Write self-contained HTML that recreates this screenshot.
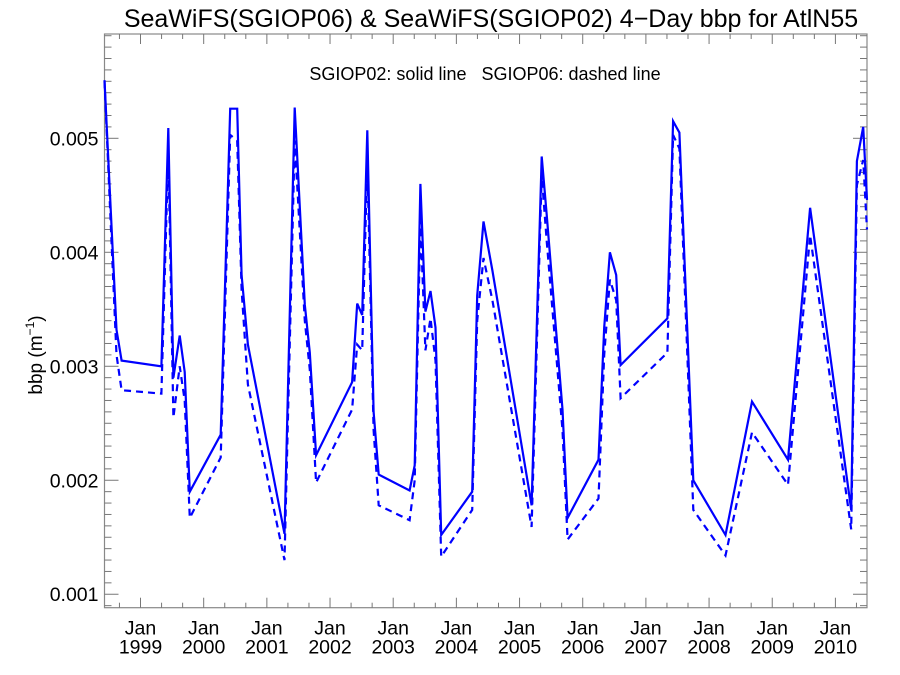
<!DOCTYPE html>
<html><head><meta charset="utf-8"><style>
html,body{margin:0;padding:0;background:#fff;}
svg{display:block;font-family:"Liberation Sans",sans-serif;}
</style></head><body>
<svg id="chart" width="900" height="675">
<text x="491" y="27" font-size="25" text-anchor="middle">SeaWiFS(SGIOP06) &amp; SeaWiFS(SGIOP02) 4−Day bbp for AtlN55</text>
<text x="485" y="80" font-size="18" text-anchor="middle" xml:space="preserve" style="white-space:pre">SGIOP02: solid line   SGIOP06: dashed line</text>
<text transform="translate(42,355) rotate(-90)" font-size="19" text-anchor="middle">bbp (m<tspan font-size="12" dy="-8">−1</tspan><tspan dy="8">)</tspan></text>
<g id="axes"></g>
<g id="series"></g>
</svg>
<script>
const dates=[1998.43,1998.62,1998.7,1999.33,1999.44,1999.52,1999.62,1999.7,1999.78,2000.27,2000.42,2000.53,2000.6,2000.7,2001.28,2001.44,2001.6,2001.68,2001.78,2002.35,2002.43,2002.51,2002.59,2002.69,2002.77,2003.26,2003.34,2003.43,2003.51,2003.59,2003.67,2003.76,2004.25,2004.33,2004.43,2004.57,2005.19,2005.35,2005.43,2005.68,2005.76,2006.25,2006.34,2006.43,2006.53,2006.6,2007.34,2007.43,2007.53,2007.75,2008.26,2008.68,2009.25,2009.6,2010.25,2010.34,2010.44,2010.5];
const sgiop02=[0.00551,0.00332,0.00305,0.00300,0.00509,0.0029,0.00327,0.00295,0.00190,0.00240,0.00526,0.00526,0.0038,0.00319,0.00153,0.00527,0.00354,0.00312,0.00222,0.00286,0.00355,0.00345,0.00507,0.0026,0.00205,0.00191,0.00213,0.0046,0.00348,0.00366,0.00334,0.00152,0.0019,0.00362,0.00427,0.00384,0.00178,0.00484,0.00433,0.00262,0.00167,0.00218,0.00334,0.0040,0.0038,0.00301,0.00342,0.00515,0.00505,0.0020,0.00152,0.00269,0.00218,0.00439,0.00174,0.0048,0.0051,0.00446];
const sgiop06=[0.0055,0.0031,0.00279,0.00276,0.0049,0.00255,0.0030,0.0027,0.00167,0.0022,0.00503,0.00498,0.00367,0.00284,0.0013,0.00498,0.0034,0.00297,0.00198,0.00262,0.00319,0.00314,0.00481,0.00244,0.00178,0.00165,0.0020,0.00428,0.00314,0.00342,0.00305,0.00133,0.00174,0.0034,0.00395,0.00358,0.00159,0.00468,0.0041,0.00244,0.00148,0.00184,0.0031,0.00376,0.00358,0.00272,0.00312,0.00503,0.00491,0.00174,0.00134,0.00242,0.00196,0.00415,0.00157,0.00459,0.00481,0.0042];
const yTicks=[0.001,0.002,0.003,0.004,0.005];
const yTickLabels=["0.001","0.002","0.003","0.004","0.005"];
const xYears=[1999,2000,2001,2002,2003,2004,2005,2006,2007,2008,2009,2010];

const L=104.5,R=867,T=34,B=607.7;
const X0=1998.43,X1=2010.5,Y0=0.000882,Y1=0.005915;
const sx=t=>L+(t-X0)/(X1-X0)*(R-L);
const sy=v=>B-(v-Y0)/(Y1-Y0)*(B-T);
const NS="http://www.w3.org/2000/svg";
function mk(tag,attrs,parent){const e=document.createElementNS(NS,tag);for(const k in attrs)e.setAttribute(k,attrs[k]);parent.appendChild(e);return e;}
const ax=document.getElementById('axes');
const frame=mk('rect',{x:L,y:T,width:R-L,height:B-T,fill:'none',stroke:'#888','stroke-width':1.2},ax);


for(let i=9;i<=59;i++){const v=i/10000,y=sy(v);if(y<T||y>B)continue;const major=i%10===0;const len=major?14:7;
 mk('line',{x1:L,x2:L+len,y1:y,y2:y,stroke:'#777','stroke-width':1},ax);
 mk('line',{x1:R,x2:R-len,y1:y,y2:y,stroke:'#777','stroke-width':1},ax);}
yTicks.forEach((v,i)=>{const t=mk('text',{x:L-6,y:sy(v)+7,'font-size':19.5,'text-anchor':'end'},ax);t.textContent=yTickLabels[i];
 
 });
for(let y=1998;y<=2011;y++){for(let m=0;m<3;m++){const t=y+m/3,x=sx(t);if(x<L||x>R)continue;const len=m===0?10:5;
 mk('line',{x1:x,x2:x,y1:B,y2:B-len,stroke:'#777','stroke-width':1},ax);
 mk('line',{x1:x,x2:x,y1:T,y2:T+len,stroke:'#777','stroke-width':1},ax);}}
xYears.forEach(yr=>{const x=sx(yr);
 const a=mk('text',{x:x,y:B+27,'font-size':19.5,'text-anchor':'middle'},ax);a.textContent='Jan';
 
 
 const b=mk('text',{x:x,y:B+46,'font-size':19.5,'text-anchor':'middle'},ax);b.textContent=String(yr);
 
 });
const sg=document.getElementById('series');
const pts=arr=>arr.map((v,i)=>sx(dates[i]).toFixed(1)+','+sy(v).toFixed(1)).join(' ');
const l2=mk('polyline',{points:pts(sgiop02),fill:'none',stroke:'#0000ff','stroke-width':2.2,'stroke-linejoin':'miter'},sg);


const l6=mk('polyline',{points:pts(sgiop06),fill:'none',stroke:'#0000ff','stroke-width':2.2,'stroke-dasharray':'7,5'},sg);


</script>
</body></html>
